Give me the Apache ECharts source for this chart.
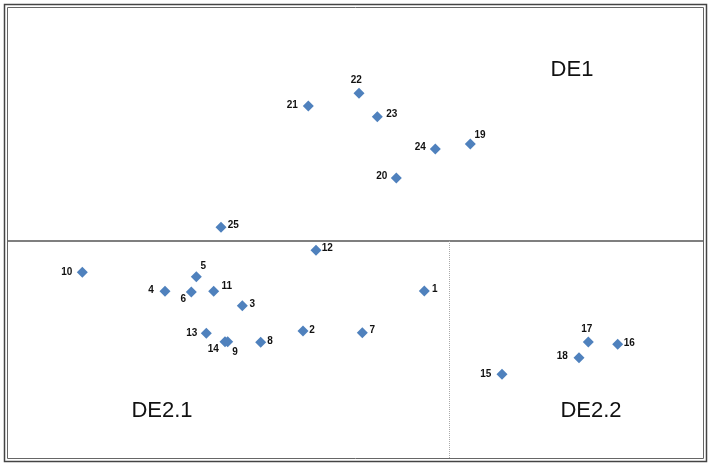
<!DOCTYPE html>
<html>
<head>
<meta charset="utf-8">
<script src="https://cdn.jsdelivr.net/npm/echarts@6/dist/echarts.min.js"></script>
<style>
html,body{margin:0;padding:0;background:#fff;}
#chart{width:712px;height:469px;}
</style>
</head>
<body>
<div id="chart"></div>
<script>
// Point identifiers
var pointNames = ['1','2','3','4','5','6','7','8','9','10','11','12','13','14','15','16','17','18','19','20','21','22','23','24','25'];
// Horizontal coordinate (arbitrary units)
var xValues = [416.3, 295, 234.3, 157, 188.3, 183.3, 354.3, 252.7, 219.7, 74.3, 205.7, 308, 198.3, 217, 494, 609.7, 580.3, 571, 462.3, 388.3, 300.3, 351, 369.3, 427.3, 213];
// Vertical coordinate (arbitrary units)
var yValues = [167, 127, 152.3, 166.7, 181.3, 166, 125.3, 115.7, 116.3, 185.7, 166.7, 207.7, 124.7, 116.3, 83.7, 113.7, 116, 100.3, 314, 280, 352, 364.7, 341.3, 309, 230.7];
// Group boundaries
var splitY = 217.5;
var splitX = 441;
var regionNames = ['DE1', 'DE2.1', 'DE2.2'];

// label offsets (style)
var labelOffsets = {
 '1':[10.4,-2],'2':[9,-0.3],'3':[10,-1.7],'4':[-14,-1.3],'5':[7,-10],'6':[-8,7],'7':[10,-2],
 '8':[9.3,-1.3],'9':[7.3,10.6],'10':[-15.6,0],'11':[13,-5],'12':[11.3,-2],'13':[-14.6,0],
 '14':[-11.7,7.6],'15':[-16.3,0.4],'16':[11.6,-1],'17':[-1.6,-13],'18':[-16.7,-1],'19':[9.7,-8.3],
 '20':[-14.6,-2],'21':[-16,-0.7],'22':[-2.7,-13],'23':[14.4,-2],'24':[-15,-1.7],'25':[12.3,-2.3]
};

var data = pointNames.map(function(n, i){
  return {
    name: n,
    value: [xValues[i], yValues[i]],
    label: { offset: labelOffsets[n] }
  };
});

var chart = echarts.init(document.getElementById('chart'));
chart.setOption({
  animation: false,
  backgroundColor: '#fff',
  grid: { left: 8, top: 8, right: 9, bottom: 11, show: false },
  xAxis: { type: 'value', min: 0, max: 695, show: false },
  yAxis: { type: 'value', min: 0, max: 450, show: false },
  series: [{
    type: 'scatter',
    symbol: 'diamond',
    symbolSize: 11,
    itemStyle: { color: '#4F81BD', opacity: 1 },
    label: {
      show: true,
      position: 'inside',
      formatter: '{b}',
      color: '#111',
      fontFamily: 'Liberation Sans',
      fontWeight: 'bold',
      fontSize: 10
    },
    data: data,
    markLine: {
      silent: true,
      symbol: ['none','none'],
      label: { show: false },
      data: [
        [{ coord: [0, splitY], lineStyle: { color: '#555', width: 1.5, type: 'solid' } }, { coord: [695, splitY] }],
        [{ coord: [splitX, 0], lineStyle: { color: '#aaa', width: 1, type: [1, 1] } }, { coord: [splitX, splitY] }]
      ]
    }
  }],
  graphic: [
    { type: 'rect', shape: { x: 4.5, y: 4.5, width: 702, height: 457 }, style: { fill: 'none', stroke: '#444', lineWidth: 1.5 }, silent: true },
    { type: 'rect', shape: { x: 7.5, y: 7.5, width: 696, height: 451 }, style: { fill: 'none', stroke: '#666', lineWidth: 1 }, silent: true },
    { type: 'text', x: 572, y: 70, style: { text: regionNames[0], font: '22px "Liberation Sans"', fill: '#111', textAlign: 'center', textVerticalAlign: 'middle' } },
    { type: 'text', x: 162, y: 411, style: { text: regionNames[1], font: '22px "Liberation Sans"', fill: '#111', textAlign: 'center', textVerticalAlign: 'middle' } },
    { type: 'text', x: 591, y: 411, style: { text: regionNames[2], font: '22px "Liberation Sans"', fill: '#111', textAlign: 'center', textVerticalAlign: 'middle' } }
  ]
});
</script>
</body>
</html>
